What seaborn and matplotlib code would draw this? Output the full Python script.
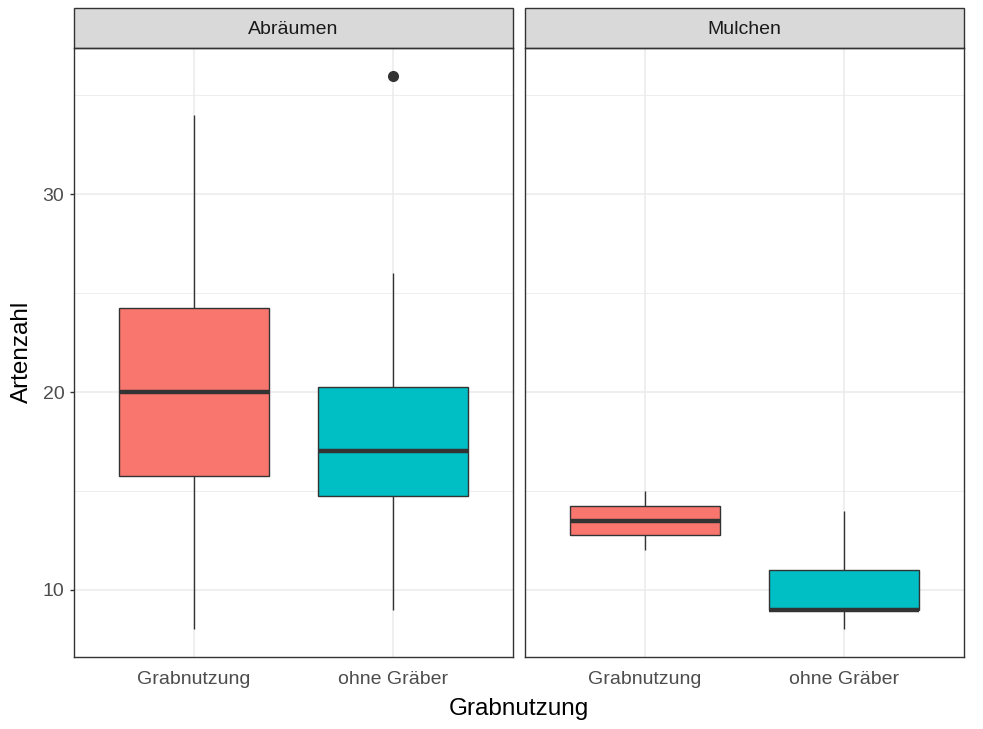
"""
Artenzahl nach Grabnutzung, getrennt nach Pflege (Abräumen / Mulchen).
ggplot-like facetted boxplot redrawn with seaborn -> out.png
"""
import matplotlib.pyplot as plt
import pandas as pd
import seaborn as sns
from matplotlib.patches import Rectangle
from matplotlib.ticker import FixedLocator

PFLEGE = ["Abräumen", "Mulchen"]
GRAB = ["Grabnutzung", "ohne Gräber"]
FILL = {"Grabnutzung": "#F8766D", "ohne Gräber": "#00BFC4"}

# five-number summaries: lower whisker, Q1, median, Q3, upper whisker
abr_grab = [8, 15.75, 20, 24.25, 34]
abr_ohne = [9, 14.75, 17, 20.25, 26]
mul_grab = [12, 12.75, 13.5, 14.25, 15]
mul_ohne = [8, 9, 9, 11, 14]
abr_ohne_outlier = 36

DARK = "#333333"
GRID = "#EBEBEB"


def sample(stats, outlier=None):
    """Observations whose linear quartiles reproduce the summary exactly."""
    lo, q1, med, q3, hi = stats
    if outlier is None:
        return [lo, q1, med, q3, hi]
    return [lo, q1, q1, med, med, q3, q3, hi, outlier]


rows = []
for pflege, grab, vals in [
    ("Abräumen", "Grabnutzung", sample(abr_grab)),
    ("Abräumen", "ohne Gräber", sample(abr_ohne, abr_ohne_outlier)),
    ("Mulchen", "Grabnutzung", sample(mul_grab)),
    ("Mulchen", "ohne Gräber", sample(mul_ohne)),
]:
    rows += [{"pflege": pflege, "grab": grab, "arten": v} for v in vals]
df = pd.DataFrame(rows)

sns.set_theme(style="white")
plt.rcParams["font.family"] = ["Liberation Sans", "DejaVu Sans"]

fig, axes = plt.subplots(1, 2, figsize=(9.83, 7.29), dpi=100, sharey=True)
fig.subplots_adjust(left=0.0753, right=0.9807, top=0.9342, bottom=0.0988,
                    wspace=0.0273)

for i, (ax, pflege) in enumerate(zip(axes, PFLEGE)):
    sub = df[df["pflege"] == pflege]
    sns.boxplot(data=sub, x="grab", y="arten", hue="grab", order=GRAB,
                hue_order=GRAB, palette=FILL, saturation=1, width=0.75,
                legend=False, showcaps=False, linewidth=1.0, linecolor=DARK,
                medianprops=dict(color=DARK, linewidth=3.2),
                whiskerprops=dict(color=DARK, linewidth=1.0),
                flierprops=dict(marker="o", markersize=7,
                                markerfacecolor=DARK, markeredgecolor=DARK),
                ax=ax)
    ax.set_xlim(-0.6, 1.6)
    ax.set_ylim(6.6, 37.4)
    ax.set_yticks([10, 20, 30])
    ax.yaxis.set_minor_locator(FixedLocator([15, 25, 35]))
    ax.set_axisbelow(True)
    ax.grid(which="major", color=GRID, linewidth=1.1)
    ax.grid(which="minor", axis="y", color=GRID, linewidth=0.6)
    ax.set_xlabel(""); ax.set_ylabel("")
    for s in ax.spines.values():
        s.set_visible(True); s.set_color(DARK); s.set_linewidth(1.0)
    ax.tick_params(which="major", length=3, width=1.0, color=DARK,
                   labelcolor="#4D4D4D", labelsize=14)
    ax.tick_params(axis="x", pad=7)
    ax.tick_params(axis="y", pad=4, left=(i == 0))
    ax.tick_params(which="minor", length=0)
    # facet strip
    h = 40 / 609
    ax.add_patch(Rectangle((0, 1), 1, h, transform=ax.transAxes,
                           facecolor="#D9D9D9", edgecolor=DARK, lw=1.0,
                           clip_on=False))
    ax.text(0.5, 1 + h / 2, pflege, transform=ax.transAxes, ha="center",
            va="center_baseline", fontsize=14, color="#1A1A1A")

fig.text(0.528, 0.027, "Grabnutzung", ha="center", va="center",
         fontsize=17.5, color="black")
fig.text(0.022, 0.517, "Artenzahl", ha="center", va="center",
         rotation=90, fontsize=17.5, color="black")

fig.savefig("out.png", dpi=100)
